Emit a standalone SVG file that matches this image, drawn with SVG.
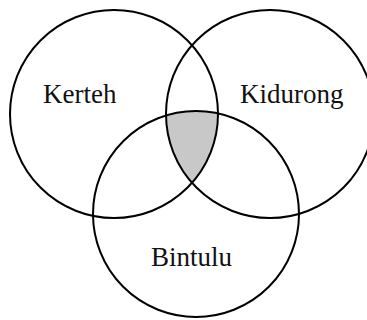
<svg xmlns="http://www.w3.org/2000/svg" width="367" height="320" viewBox="0 0 367 320">
  <style>
    .set { fill: none; stroke: #000; stroke-width: 2; }
    .lbl { font-family: "Liberation Serif", "Times New Roman", serif; font-size: 27px; fill: #111; }
  </style>
  <defs>
    <clipPath id="clipK"><circle cx="114" cy="114" r="104"/></clipPath>
    <clipPath id="clipD"><circle cx="270" cy="114" r="104"/></clipPath>
    <clipPath id="clipB"><circle cx="196" cy="214" r="103"/></clipPath>
  </defs>
  <rect width="367" height="320" fill="#fff"/>
  <g id="overlap">
    <g clip-path="url(#clipK)">
      <g clip-path="url(#clipD)">
        <rect x="0" y="0" width="367" height="320" fill="#c8c8c8" clip-path="url(#clipB)"/>
      </g>
    </g>
  </g>
  <g id="kerteh">
    <circle class="set" cx="114" cy="114" r="104"/>
    <text class="lbl" x="43" y="103">Kerteh</text>
  </g>
  <g id="kidurong">
    <circle class="set" cx="270" cy="114" r="104"/>
    <text class="lbl" x="240" y="103">Kidurong</text>
  </g>
  <g id="bintulu">
    <circle class="set" cx="196" cy="214" r="103"/>
    <text class="lbl" x="151" y="266">Bintulu</text>
  </g>
</svg>
